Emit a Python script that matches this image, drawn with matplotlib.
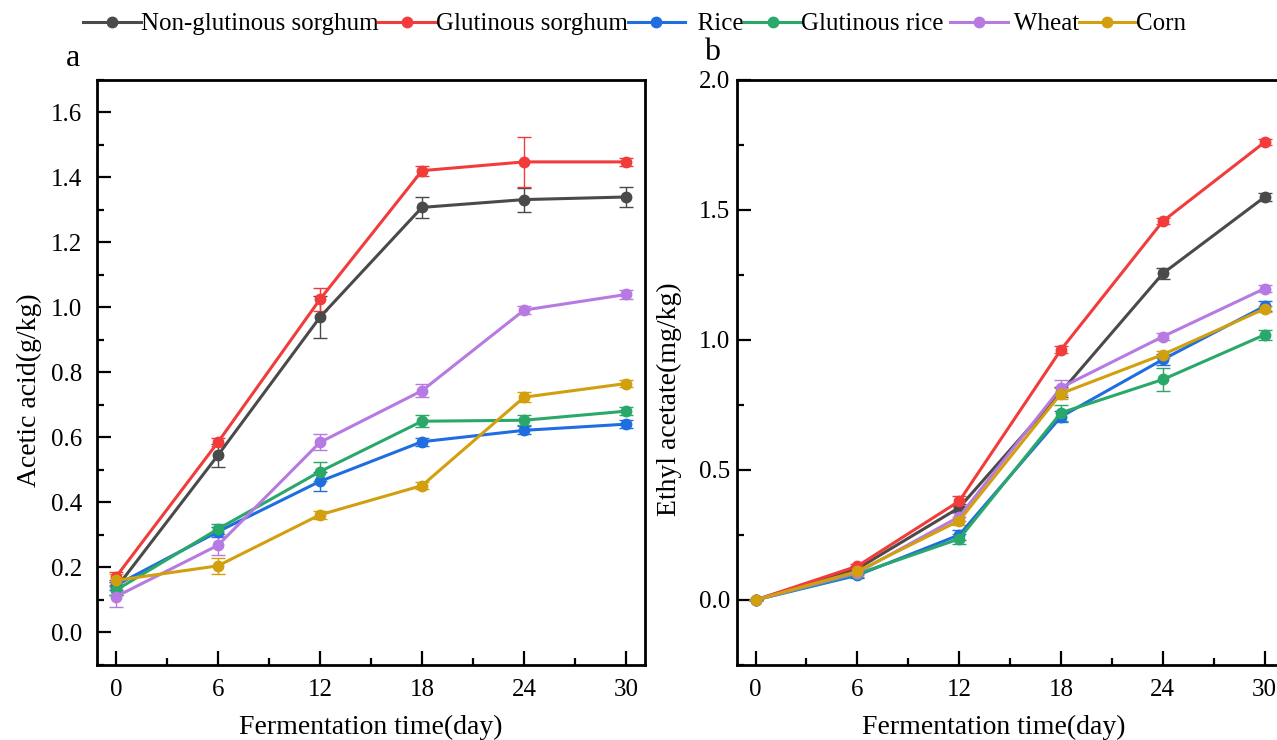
import matplotlib
matplotlib.use("Agg")
import matplotlib.pyplot as plt
from matplotlib.ticker import MultipleLocator
from matplotlib.lines import Line2D

plt.rcParams['font.family'] = ['Liberation Serif', 'DejaVu Serif']

days = [0, 6, 12, 18, 24, 30]
names = ["Non-glutinous sorghum", "Glutinous sorghum", "Rice", "Glutinous rice", "Wheat", "Corn"]
legend_labels = ["Non-glutinous sorghum", "Glutinous sorghum", "  Rice", "Glutinous rice ", " Wheat", "Corn"]
colors = ["#4a4a4a", "#f23c3c", "#1f6ee0", "#2aa86a", "#b77ae2", "#d29f0e"]

# Panel a: acetic acid (g/kg)
acetic = {
    "Non-glutinous sorghum": [0.135, 0.545, 0.970, 1.308, 1.332, 1.340],
    "Glutinous sorghum":     [0.170, 0.585, 1.025, 1.421, 1.448, 1.448],
    "Rice":                  [0.145, 0.310, 0.465, 0.587, 0.622, 0.641],
    "Glutinous rice":        [0.130, 0.318, 0.495, 0.650, 0.653, 0.681],
    "Wheat":                 [0.110, 0.268, 0.585, 0.744, 0.992, 1.040],
    "Corn":                  [0.160, 0.205, 0.362, 0.452, 0.724, 0.766],
}
acetic_err = {
    "Non-glutinous sorghum": [0.020, 0.035, 0.065, 0.033, 0.037, 0.032],
    "Glutinous sorghum":     [0.015, 0.012, 0.035, 0.015, 0.076, 0.012],
    "Rice":                  [0.015, 0.015, 0.030, 0.012, 0.012, 0.012],
    "Glutinous rice":        [0.015, 0.015, 0.030, 0.018, 0.015, 0.012],
    "Wheat":                 [0.032, 0.030, 0.025, 0.020, 0.012, 0.015],
    "Corn":                  [0.020, 0.025, 0.012, 0.010, 0.015, 0.012],
}

# Panel b: ethyl acetate (mg/kg)
ethyl = {
    "Non-glutinous sorghum": [0.0, 0.120, 0.355, 0.800, 1.256, 1.550],
    "Glutinous sorghum":     [0.0, 0.130, 0.380, 0.963, 1.457, 1.761],
    "Rice":                  [0.0, 0.095, 0.250, 0.705, 0.925, 1.130],
    "Glutinous rice":        [0.0, 0.100, 0.235, 0.720, 0.848, 1.020],
    "Wheat":                 [0.0, 0.105, 0.320, 0.817, 1.013, 1.198],
    "Corn":                  [0.0, 0.110, 0.305, 0.794, 0.944, 1.120],
}
ethyl_err = {
    "Non-glutinous sorghum": [0.0, 0.012, 0.015, 0.020, 0.020, 0.015],
    "Glutinous sorghum":     [0.0, 0.010, 0.020, 0.012, 0.012, 0.012],
    "Rice":                  [0.0, 0.010, 0.020, 0.020, 0.020, 0.020],
    "Glutinous rice":        [0.0, 0.010, 0.020, 0.030, 0.045, 0.020],
    "Wheat":                 [0.0, 0.010, 0.015, 0.030, 0.012, 0.015],
    "Corn":                  [0.0, 0.010, 0.015, 0.020, 0.015, 0.012],
}

fig = plt.figure(figsize=(12.77, 7.40), dpi=100)
axa = fig.add_axes([0.076, 0.1014, 0.429, 0.7905])
axb = fig.add_axes([0.577, 0.1014, 0.428, 0.7905])


def draw(ax, data, err):
    for name, c in zip(names, colors):
        ax.errorbar(days, data[name], yerr=err[name], color=c, lw=2.2,
                    marker='o', ms=7.5, mec=c, mfc=c, ecolor=c, elinewidth=1.0,
                    capsize=5, capthick=1.0, zorder=3)
    ax.set_xlim(-1.1, 31.1)
    ax.set_xticks(days)
    ax.xaxis.set_minor_locator(MultipleLocator(3))
    for s in ax.spines.values():
        s.set_linewidth(2.0)
    ax.tick_params(which='both', direction='in', width=1.6, labelsize=18)
    ax.tick_params(which='major', length=10)
    ax.tick_params(which='minor', length=5)
    ax.tick_params(axis='x', which='major', pad=10)
    ax.tick_params(top=False, right=False)


draw(axa, acetic, acetic_err)
axa.set_ylim(-0.1, 1.7)
axa.set_yticks([0.0, 0.2, 0.4, 0.6, 0.8, 1.0, 1.2, 1.4, 1.6])
axa.yaxis.set_minor_locator(MultipleLocator(0.1))
axa.tick_params(axis='y', which='major', pad=11)
axa.set_ylabel("Acetic acid(g/kg)", fontsize=20)
axa.yaxis.set_label_coords(-0.1, 0.47)
axa.set_xlabel("Fermentation time(day)", fontsize=20)
axa.xaxis.set_label_coords(0.5, -0.086)

draw(axb, ethyl, ethyl_err)
axb.set_ylim(-0.25, 2.0)
axb.set_yticks([0.0, 0.5, 1.0, 1.5, 2.0])
axb.yaxis.set_minor_locator(MultipleLocator(0.25))
axb.tick_params(axis='y', which='major', pad=5)
axb.set_ylabel("Ethyl acetate(mg/kg)", fontsize=20)
axb.yaxis.set_label_coords(-0.1, 0.455)
axb.set_xlabel("Fermentation time(day)", fontsize=20)
axb.xaxis.set_label_coords(0.47, -0.086)

fig.text(73 / 1277, 1 - 58 / 740, "a", fontsize=23, ha='center', va='center')
fig.text(712 / 1277, 1 - 52 / 740, "b", fontsize=23, ha='center', va='center')

handles = [Line2D([], [], color=c, lw=2.2, marker='o', ms=7.5) for c in colors]
fig.legend(handles, legend_labels, loc='center', bbox_to_anchor=(0.497, 1 - 24 / 740),
           ncol=6, frameon=False, fontsize=18, handlelength=2.3,
           handletextpad=0.0, columnspacing=0.0, borderpad=0.1)

fig.savefig("out.png", dpi=100)
